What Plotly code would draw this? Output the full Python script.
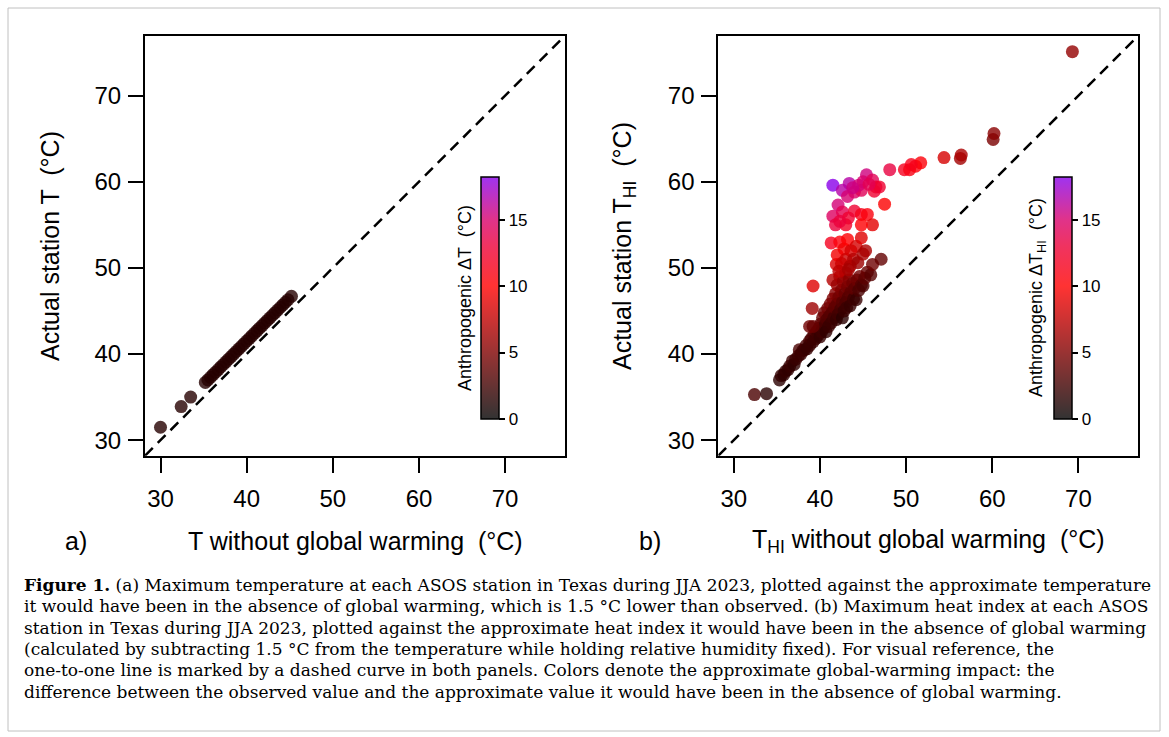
import plotly.graph_objects as go

# ---------------- data ----------------
# Panel a: T without global warming vs actual station T
a_x = [30.0, 32.4, 33.5, 35.2, 35.5, 35.8, 36.1, 36.4, 36.7, 37.0, 37.3, 37.6, 37.9, 38.2,
       38.5, 38.8, 39.1, 39.4, 39.7, 40.0, 40.3, 40.6, 40.9, 41.2, 41.5, 41.8, 42.1, 42.4,
       42.7, 43.0, 43.3, 43.6, 43.9, 44.2, 44.5, 44.8, 45.2]
a_y = [31.5, 33.9, 35.0, 36.7, 37.0, 37.3, 37.6, 37.9, 38.2, 38.5, 38.8, 39.1, 39.4, 39.7,
       40.0, 40.3, 40.6, 40.9, 41.2, 41.5, 41.8, 42.1, 42.4, 42.7, 43.0, 43.3, 43.6, 43.9,
       44.2, 44.5, 44.8, 45.1, 45.4, 45.7, 46.0, 46.3, 46.7]

# Panel b: T_HI without global warming vs actual station T_HI
b_x = [32.4, 33.8,
       35.3, 35.5, 35.8, 36.0, 36.3, 36.5, 36.8, 37.0, 37.2, 37.5, 37.6, 37.8, 38.0, 38.2,
       38.4, 38.5, 38.8, 38.8, 39.0, 39.2, 39.3, 39.5, 39.6, 39.8, 39.9, 40.0, 40.1, 40.2,
       40.3, 40.4, 40.5, 40.6, 40.7, 40.8, 40.9, 41.0, 41.1, 41.2, 41.3, 41.4, 41.5, 41.5,
       41.6, 41.7, 41.8, 41.9, 42.0, 42.0, 42.1, 42.2, 42.3, 42.4, 42.5, 42.6, 42.6, 42.7,
       42.8, 42.9, 43.0, 43.0, 43.1, 43.2, 43.3, 43.4, 43.5, 43.6, 43.8, 43.9, 44.0, 44.2,
       44.3, 44.5, 44.6, 44.8, 45.0, 45.2, 45.5, 45.9, 46.1, 47.1, 38.8, 39.2, 39.1, 39.2,
       41.3, 41.9, 42.0, 42.3, 42.5, 42.8, 43.0, 43.2, 43.5, 43.6, 43.9, 44.2, 44.4, 44.8,
       45.0, 45.3, 42.2, 43.3,
       41.5, 41.8, 42.1, 42.6, 43.0, 43.3, 44.0, 44.8, 45.5, 46.1, 44.8, 47.5, 42.3,
       41.5, 42.6, 43.4, 43.2, 44.0, 44.8, 45.4, 45.0, 46.1, 46.5, 46.9, 46.3, 44.5, 43.8,
       45.7,
       48.1, 49.8, 50.4, 51.1, 51.7, 50.6, 54.4, 56.3, 56.4, 60.1, 60.2, 69.3]
b_y = [35.3, 35.4,
       37.0, 37.5, 37.6, 38.0, 38.2, 38.6, 39.2, 38.8, 39.4, 39.8, 40.5, 40.0, 40.4, 40.5,
       41.0, 40.6, 41.5, 41.0, 41.8, 41.4, 42.2, 41.8, 42.6, 42.2, 43.0, 42.0, 43.5, 42.6,
       44.2, 43.0, 44.8, 43.4, 42.6, 44.0, 45.3, 43.2, 44.4, 45.8, 43.6, 44.8, 46.4, 48.6,
       44.2, 45.4, 47.0, 44.0, 45.8, 48.0, 44.6, 46.6, 49.0, 45.2, 47.4, 44.2, 46.0, 48.4,
       45.0, 47.0, 46.0, 49.4, 45.4, 47.8, 46.6, 48.6, 45.6, 47.2, 48.2, 46.4, 47.6, 46.3,
       48.6, 47.4, 49.0, 48.0, 47.9, 48.8, 49.5, 49.2, 50.4, 51.0, 43.2, 43.2, 45.3, 47.9,
       52.9, 50.4, 51.5, 53.0, 50.5, 52.2, 51.0, 53.3, 50.2, 52.0, 51.0, 52.5, 50.6, 53.5,
       51.6, 52.0, 49.6, 49.8,
       56.0, 55.0, 57.3, 56.5, 55.0, 55.8, 56.6, 56.2, 56.2, 55.0, 55.0, 57.4, 55.4,
       59.6, 59.0, 59.8, 58.3, 58.8, 59.0, 60.8, 60.0, 60.2, 59.4, 59.4, 58.9, 59.6, 59.3,
       59.7,
       61.4, 61.4, 61.4, 61.8, 62.2, 62.0, 62.8, 62.7, 63.1, 64.9, 65.6, 75.1]

a_dt = [yy - xx for xx, yy in zip(a_x, a_y)]
b_dt = [yy - xx for xx, yy in zip(b_x, b_y)]

axis_ticks = [30, 40, 50, 60, 70]
cbar_ticks = [0, 5, 10, 15]
AX_RANGE = [28.2, 76.95]
DT_RANGE = [0, 18.2]

caption_lines = [
    "<b>Figure 1.</b> (a) Maximum temperature at each ASOS station in Texas during JJA 2023, plotted against the approximate temperature",
    "it would have been in the absence of global warming, which is 1.5 °C lower than observed. (b) Maximum heat index at each ASOS",
    "station in Texas during JJA 2023, plotted against the approximate heat index it would have been in the absence of global warming",
    "(calculated by subtracting 1.5 °C from the temperature while holding relative humidity fixed). For visual reference, the",
    "one-to-one line is marked by a dashed curve in both panels. Colors denote the approximate global-warming impact: the",
    "difference between the observed value and the approximate value it would have been in the absence of global warming.",
]

# ---------------- layout helpers ----------------
W, H = 1169, 737
def px(x):
    return x / W
def py(y):
    return 1 - y / H

cscale = [
    [0.0, "rgba(0,0,0,0.8)"],
    [10 / 18.2, "rgba(255,0,0,0.8)"],
    [13 / 18.2, "rgba(236,0,56,0.8)"],
    [15 / 18.2, "rgba(216,0,109,0.8)"],
    [1.0, "rgba(136,0,236,0.8)"],
]

SANS = "Liberation Sans"
SERIF = "DejaVu Serif"

fig = go.Figure()

# dashed 1:1 lines
for xa, ya in [("x", "y"), ("x2", "y2")]:
    fig.add_trace(go.Scatter(x=AX_RANGE, y=AX_RANGE, mode="lines", xaxis=xa, yaxis=ya,
                             line=dict(color="black", width=2.5, dash="11px,7px"),
                             showlegend=False, hoverinfo="skip"))

fig.add_trace(go.Scatter(x=a_x, y=a_y, mode="markers", xaxis="x", yaxis="y",
                         marker=dict(size=13, color=a_dt, coloraxis="coloraxis", line=dict(width=0)),
                         showlegend=False))
fig.add_trace(go.Scatter(x=b_x, y=b_y, mode="markers", xaxis="x2", yaxis="y2",
                         marker=dict(size=13, color=b_dt, coloraxis="coloraxis2", line=dict(width=0)),
                         showlegend=False))

ydom = [py(455.7), py(35.7)]
common_ax = dict(range=AX_RANGE, tickvals=axis_ticks, ticks="outside", ticklen=15, tickwidth=2,
                 tickcolor="black", showline=True, linecolor="black", linewidth=2, mirror=True,
                 showgrid=False, zeroline=False, tickfont=dict(family=SANS, size=24, color="black"))

cb_common = dict(thickness=18, thicknessmode="pixels", len=242, lenmode="pixels",
                 yanchor="top", y=py(177), xanchor="left", outlinewidth=1.5, outlinecolor="black",
                 tickvals=cbar_ticks, ticks="outside", ticklen=6, tickwidth=1.5, tickcolor="black",
                 tickfont=dict(family=SANS, size=17, color="black"), xpad=0, ypad=0)

fig.update_layout(
    width=W, height=H, margin=dict(l=0, r=0, t=0, b=0),
    paper_bgcolor="white", plot_bgcolor="white",
    xaxis=dict(domain=[px(145), px(565)], anchor="y", ticklabelstandoff=5, **common_ax),
    yaxis=dict(domain=ydom, anchor="x", ticklabelstandoff=2, **common_ax),
    xaxis2=dict(domain=[px(718.3), px(1138.3)], anchor="y2", ticklabelstandoff=5, **common_ax),
    yaxis2=dict(domain=ydom, anchor="x2", ticklabelstandoff=2, **common_ax),
    coloraxis=dict(cmin=DT_RANGE[0], cmax=DT_RANGE[1], colorscale=cscale,
                   colorbar=dict(x=px(480.7), **cb_common)),
    coloraxis2=dict(cmin=DT_RANGE[0], cmax=DT_RANGE[1], colorscale=cscale,
                    colorbar=dict(x=px(1054), **cb_common)),
)

ann = []
def text(x, y, t, size, angle=0, family=SANS, xanchor="center", yanchor="middle"):
    ann.append(dict(x=px(x), y=py(y), xref="paper", yref="paper", text=t, showarrow=False,
                    textangle=angle, xanchor=xanchor, yanchor=yanchor,
                    font=dict(family=family, size=size, color="black")))

text(355, 541, "T without global warming  (°C)", 25)
text(76, 541, "a)", 25)
text(50, 246, "Actual station T  (°C)", 25, angle=-90)
text(928.3, 541, "T<sub>HI</sub> without global warming  (°C)", 25)
text(650, 541, "b)", 25)
text(624, 246, "Actual station T<sub>HI</sub>  (°C)", 25, angle=-90)
text(465, 298, "Anthropogenic ΔT  (°C)", 18, angle=-90)
text(1038, 298, "Anthropogenic ΔT<sub>HI</sub>  (°C)", 18, angle=-90)

y0 = 585
for i, line in enumerate(caption_lines):
    text(22, y0 + i * 21.3, line, 17, family=SERIF, xanchor="left")

fig.update_layout(annotations=ann)

shapes = [
    dict(type="rect", xref="paper", yref="paper", x0=px(8), x1=px(1160), y0=py(731), y1=py(8),
         line=dict(color="#c0c0c0", width=1)),
]
fig.update_layout(shapes=shapes)

fig.write_html("out.html")
